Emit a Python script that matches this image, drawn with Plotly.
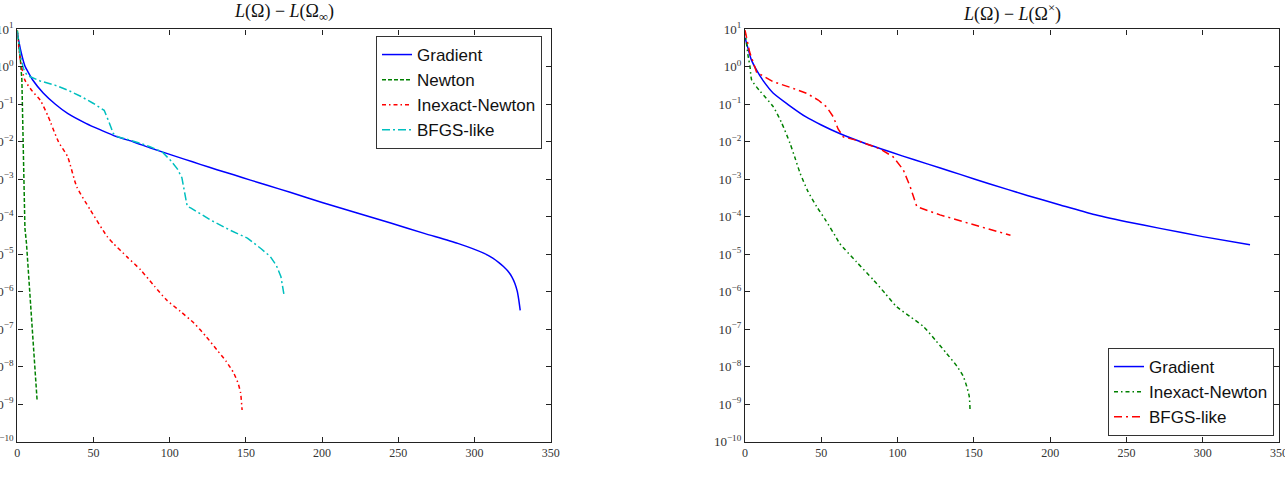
import plotly.graph_objects as go

# ---------------- data ----------------
# Left panel: L(Omega) - L(Omega_inf)
grad_l_x = [0, 2, 5, 6.4, 10, 17, 25, 33, 45, 55, 65, 76, 87, 98, 110, 120, 131, 142, 153, 164,
            179, 200, 223, 245, 267, 289, 306, 312, 316, 319, 322, 324.5, 326.5, 328, 329, 330]
grad_l_y = [8.0, 3.0, 1.05, 0.81, 0.45, 0.2, 0.1, 0.057, 0.031, 0.0204, 0.0138, 0.0100, 0.0069,
            0.0049, 0.0034, 0.0025, 0.0018, 0.00132, 9.5e-4, 6.9e-4, 4.5e-4, 2.4e-4, 1.26e-4,
            6.8e-5, 3.6e-5, 1.95e-5, 1.07e-5, 7.9e-6, 6.0e-6, 4.7e-6, 3.5e-6, 2.5e-6, 1.66e-6,
            1.05e-6, 6.3e-7, 3.2e-7]

newton_l_x = [0, 1, 2, 3, 4, 5, 6, 7, 8, 9, 10, 11, 12, 13]
newton_l_y = [9.5, 4.0, 1.6, 0.45, 2.5e-3, 5e-5, 2e-5, 5e-6, 1.26e-6, 3.2e-7, 7.9e-8, 2e-8, 5e-9, 1.26e-9]

inexact_l_x = [0, 2, 5, 10, 15, 20, 22, 27, 33, 39, 48, 59, 63, 72, 81, 90, 98, 107, 116, 124,
               131, 137, 142, 145, 146.5, 147.5]
inexact_l_y = [8.0, 1.5, 0.44, 0.22, 0.13, 0.05, 0.0316, 0.01, 4e-3, 6.3e-4, 1.5e-4, 2.95e-5,
               1.95e-5, 8.5e-6, 3.8e-6, 1.4e-6, 6e-7, 3e-7, 1.45e-7, 6.3e-8, 2.8e-8, 1.4e-8,
               6.8e-9, 3.5e-9, 2e-9, 7e-10]

bfgs_l_x = [0, 2, 4, 6.4, 15, 25, 33, 42, 50, 54, 57, 60, 63, 66, 70, 80, 87, 95, 100.5, 105,
            108, 110, 111.5, 114, 127, 140, 151, 160, 166, 170, 173, 175]
bfgs_l_y = [9.0, 2.0, 0.9, 0.59, 0.42, 0.32, 0.24, 0.16, 0.105, 0.083, 0.069, 0.035, 0.0166,
            0.0135, 0.0123, 0.0093, 0.0074, 0.0054, 0.0032, 0.0019, 0.0011, 4e-4, 1.9e-4, 1.7e-4,
            8.1e-5, 4.3e-5, 2.7e-5, 1.4e-5, 8.7e-6, 5e-6, 2.5e-6, 8.3e-7]

# Right panel: L(Omega) - L(Omega_x)
grad_r_x = [0, 2, 4, 7.6, 12, 18.4, 28, 40, 50, 62, 78, 95, 111, 128, 141, 160, 185, 206, 228,
            250, 272, 300, 331]
grad_r_y = [6.0, 3.1, 1.6, 0.81, 0.42, 0.2, 0.1, 0.046, 0.028, 0.0166, 0.0093, 0.0054, 0.0033,
            0.0020, 1.35e-3, 7.6e-4, 3.7e-4, 2.1e-4, 1.17e-4, 7.4e-5, 4.9e-5, 2.95e-5, 1.78e-5]

inexact_r_x = [0, 2, 3.3, 4.4, 10, 18.6, 24, 29.5, 33, 36, 41, 47, 53, 60, 62, 73, 84, 92, 99.4,
               108, 117, 125, 132, 139, 143, 145.3, 147, 147.5]
inexact_r_y = [9.0, 2.0, 1.0, 0.44, 0.22, 0.085, 0.032, 9.1e-3, 3.5e-3, 1.5e-3, 5e-4, 1.86e-4,
               7.9e-5, 2.7e-5, 1.95e-5, 6.3e-6, 2.1e-6, 8.9e-7, 4e-7, 2.2e-7, 1.17e-7, 5e-8,
               2.3e-8, 1.02e-8, 5.6e-9, 3e-9, 1.6e-9, 7e-10]

bfgs_r_x = [0, 3, 7.6, 18.5, 30, 40.4, 48, 53.5, 57.9, 61, 64.4, 73, 88, 97, 103.7, 108.3, 112.6,
            127.8, 143, 158.4, 174]
bfgs_r_y = [9.5, 2.5, 0.72, 0.4, 0.28, 0.195, 0.13, 0.085, 0.046, 0.022, 0.0135, 0.011, 6.6e-3,
            4e-3, 1.8e-3, 6.3e-4, 1.86e-4, 1.12e-4, 7.4e-5, 4.9e-5, 3.2e-5]

x_ticks = [0, 50, 100, 150, 200, 250, 300, 350]
y_tick_exps = [1, 0, -1, -2, -3, -4, -5, -6, -7, -8, -9, -10]

title_left = "<i>L</i>(Ω) − <i>L</i>(Ω<sub>∞</sub>)"
title_right = "<i>L</i>(Ω) − <i>L</i>(Ω<sup>×</sup>)"

# ---------------- styles ----------------
BLUE = "#0000ff"
GREEN = "#008000"
RED = "#ff0000"
CYAN = "#00bfbf"
LW = 1.5

fig = go.Figure()

def add(x, y, name, color, dash, xa, ya, legend, smooth=False):
    line = dict(color=color, width=LW, dash=dash)
    if smooth:
        line.update(shape="spline", smoothing=0.6)
    fig.add_trace(go.Scatter(
        x=x, y=y, mode="lines", name=name, line=line,
        xaxis=xa, yaxis=ya, legend=legend,
    ))

add(grad_l_x, grad_l_y, "Gradient", BLUE, "solid", "x", "y", "legend", True)
add(newton_l_x, newton_l_y, "Newton", GREEN, "4px,2px", "x", "y", "legend")
add(inexact_l_x, inexact_l_y, "Inexact-Newton", RED, "4px,3px,1.5px,3px", "x", "y", "legend", True)
add(bfgs_l_x, bfgs_l_y, "BFGS-like", CYAN, "8px,3px,2px,3px", "x", "y", "legend")

add(grad_r_x, grad_r_y, "Gradient", BLUE, "solid", "x2", "y2", "legend2", True)
add(inexact_r_x, inexact_r_y, "Inexact-Newton", GREEN, "4px,3px,1.5px,3px", "x2", "y2", "legend2", True)
add(bfgs_r_x, bfgs_r_y, "BFGS-like", RED, "8px,4px,2px,4px", "x2", "y2", "legend2")

W, H = 1285, 481
serif = "Liberation Serif, DejaVu Serif, serif"
sans = "Liberation Sans, Arial, sans-serif"

ytickvals = [10.0 ** e for e in y_tick_exps]
yticktext = [f"10<sup>{str(e).replace('-', '−')}</sup>" for e in y_tick_exps]

axis_common = dict(
    showline=True, linecolor="#222", linewidth=1.4, mirror="ticks",
    ticks="inside", ticklen=5, tickwidth=1.2, tickcolor="#222",
    showgrid=False, zeroline=False, automargin=False,
    ticklabeloverflow="allow",
)

xdom_l = [17.3 / W, 550.7 / W]
xdom_r = [745 / W, 1279 / W]
ydom = [1 - 441.7 / H, 1 - 29.3 / H]

xaxis_common = dict(axis_common, range=[0, 350], tickvals=x_ticks,
                    ticktext=[str(v) for v in x_ticks],
                    tickfont=dict(family=serif, size=12, color="#333"))
yaxis_common = dict(axis_common, type="log", range=[-10, 1], tickvals=ytickvals,
                    ticktext=yticktext,
                    tickfont=dict(family=serif, size=13, color="#333"))

legend_common = dict(
    bgcolor="white", bordercolor="#333", borderwidth=1,
    font=dict(family=sans, size=17, color="#111"),
    tracegroupgap=0, itemwidth=30,
)

fig.update_layout(
    width=W, height=H,
    margin=dict(l=0, r=0, t=0, b=0),
    template="none",
    paper_bgcolor="white", plot_bgcolor="white",
    xaxis=dict(xaxis_common, domain=xdom_l, anchor="y"),
    yaxis=dict(yaxis_common, domain=ydom, anchor="x"),
    xaxis2=dict(xaxis_common, domain=xdom_r, anchor="y2"),
    yaxis2=dict(yaxis_common, domain=ydom, anchor="x2"),
    legend=dict(legend_common, x=542 / W, xanchor="right", y=1 - 36 / H, yanchor="top"),
    legend2=dict(legend_common, x=1274 / W, xanchor="right", y=1 - 436 / H, yanchor="bottom"),
    showlegend=True,
    annotations=[
        dict(text=title_left, x=(xdom_l[0] + xdom_l[1]) / 2, y=1 - 13 / H, xref="paper",
             yref="paper", showarrow=False, xanchor="center", yanchor="middle",
             font=dict(family=serif, size=18, color="#111")),
        dict(text=title_right, x=(xdom_r[0] + xdom_r[1]) / 2, y=1 - 13 / H, xref="paper",
             yref="paper", showarrow=False, xanchor="center", yanchor="middle",
             font=dict(family=serif, size=18, color="#111")),
    ],
)

fig.write_html("out.html")
